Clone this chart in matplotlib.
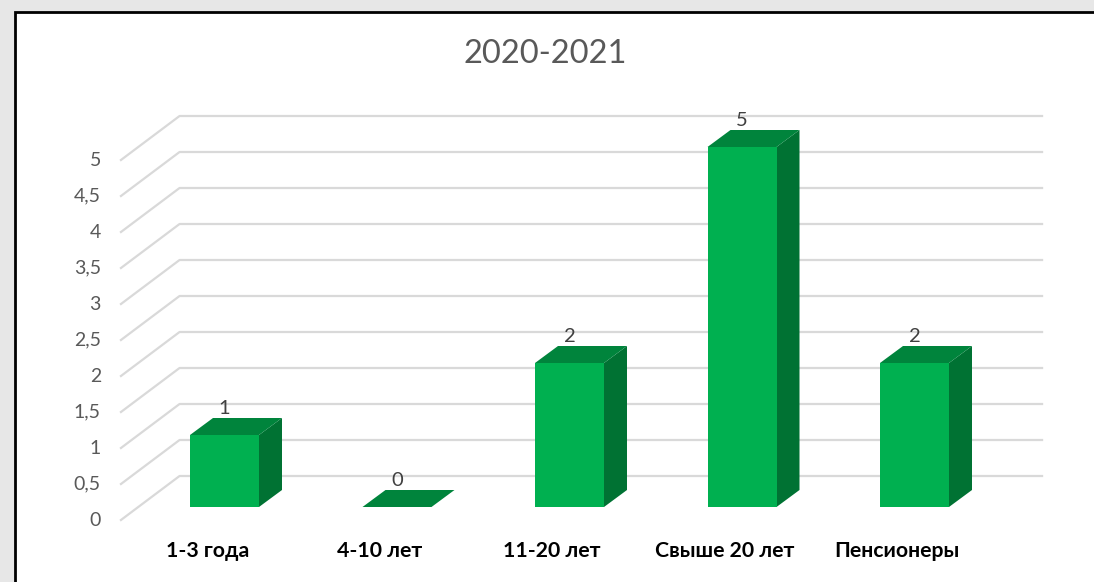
import matplotlib
matplotlib.use("Agg")
import matplotlib.pyplot as plt
from matplotlib.patches import Polygon, Rectangle
import numpy as np

categories = ["1-3 года", "4-10 лет", "11-20 лет", "Свыше 20 лет", "Пенсионеры"]
values = [1, 0, 2, 5, 2]
yticks = [0, 0.5, 1, 1.5, 2, 2.5, 3, 3.5, 4, 4.5, 5]
ytick_labels = ["0", "0,5", "1", "1,5", "2", "2,5", "3", "3,5", "4", "4,5", "5"]
title = "2020-2021"

W, H, DPI = 1094, 582, 100
FONT = ["Lato", "DejaVu Sans"]
fig = plt.figure(figsize=(W / DPI, H / DPI), dpi=DPI)
fig.patch.set_facecolor("#e7e7e7")

# white chart area with black border (extends beyond image on right/bottom)
fig.patches.append(Rectangle((15 / W, -0.05), 1.1, (H - 12) / H + 0.05,
                             transform=fig.transFigure, facecolor="white",
                             edgecolor="black", linewidth=2.0, zorder=0))

# axes = plane of bar front faces: value 0 at y=507px, 5 at y=147px
x0_px, x1_px = 138.25, 1000.75
y0_px, y5_px = 507, 147
ax = fig.add_axes([x0_px / W, (H - y0_px) / H, (x1_px - x0_px) / W, (y0_px - y5_px) / H])
ax.set_xlim(-0.5, 4.5)
ax.set_ylim(0, 5)
ax.axis("off")

fig.canvas.draw()
T = ax.transData

def px(x, y):
    p = T.transform((x, y))
    return p[0], p[1]

# offsets (display px, y up)
BACK = (41.3, 31.0)     # bar plane -> back wall
FRONT = (-17.3, -13.0)  # bar plane -> front edge (labels)
DEPTH = (23.0, 17.0)    # bar depth

grid_col = "#d9d9d9"
for v, lab in zip(yticks, ytick_labels):
    lx, ly = px(-0.5, v)
    rx, ry = px(4.5, v)
    xs = [lx + FRONT[0], lx + BACK[0], rx + BACK[0]]
    ys = [ly + FRONT[1], ly + BACK[1], ry + BACK[1]]
    fig.add_artist(plt.Line2D(xs, ys, transform=None, color=grid_col, lw=1.6, zorder=1))
    fig.text((lx + FRONT[0] - 20) / W, (ly + FRONT[1]) / H, lab, ha="right", va="center",
             fontsize=14, color="#595959", family=FONT)

c_front = "#00b050"
c_top = "#00843c"
c_side = "#007233"
w = 0.4
for i, (cat, v) in enumerate(zip(categories, values)):
    lx, by = px(i - w / 2, 0)
    rx, ty = px(i + w / 2, v)
    if v > 0:
        fig.add_artist(Polygon([(rx, by), (rx + DEPTH[0], by + DEPTH[1]),
                                (rx + DEPTH[0], ty + DEPTH[1]), (rx, ty)],
                               closed=True, transform=None, facecolor=c_side,
                               edgecolor="none", zorder=3))
        fig.add_artist(Rectangle((lx, by), rx - lx, ty - by, transform=None,
                                 facecolor=c_front, edgecolor="none", zorder=4))
    fig.add_artist(Polygon([(lx, ty), (rx, ty), (rx + DEPTH[0], ty + DEPTH[1]),
                            (lx + DEPTH[0], ty + DEPTH[1])],
                           closed=True, transform=None, facecolor=c_top,
                           edgecolor="none", zorder=3))
    cx = (lx + rx) / 2
    fig.text(cx / W, (ty + 26) / H, str(v), ha="center", va="center",
             fontsize=14.5, color="#404040", family=FONT, zorder=6)
    fig.text((cx + FRONT[0]) / W, (by + FRONT[1] - 31) / H, cat, ha="center",
             va="center", fontsize=15.3, fontweight="bold", color="black",
             family=FONT)

fig.text(0.498, (H - 54) / H, title, ha="center", va="center", fontsize=23.5,
         color="#595959", family=FONT)

fig.savefig("out.png", dpi=DPI)
